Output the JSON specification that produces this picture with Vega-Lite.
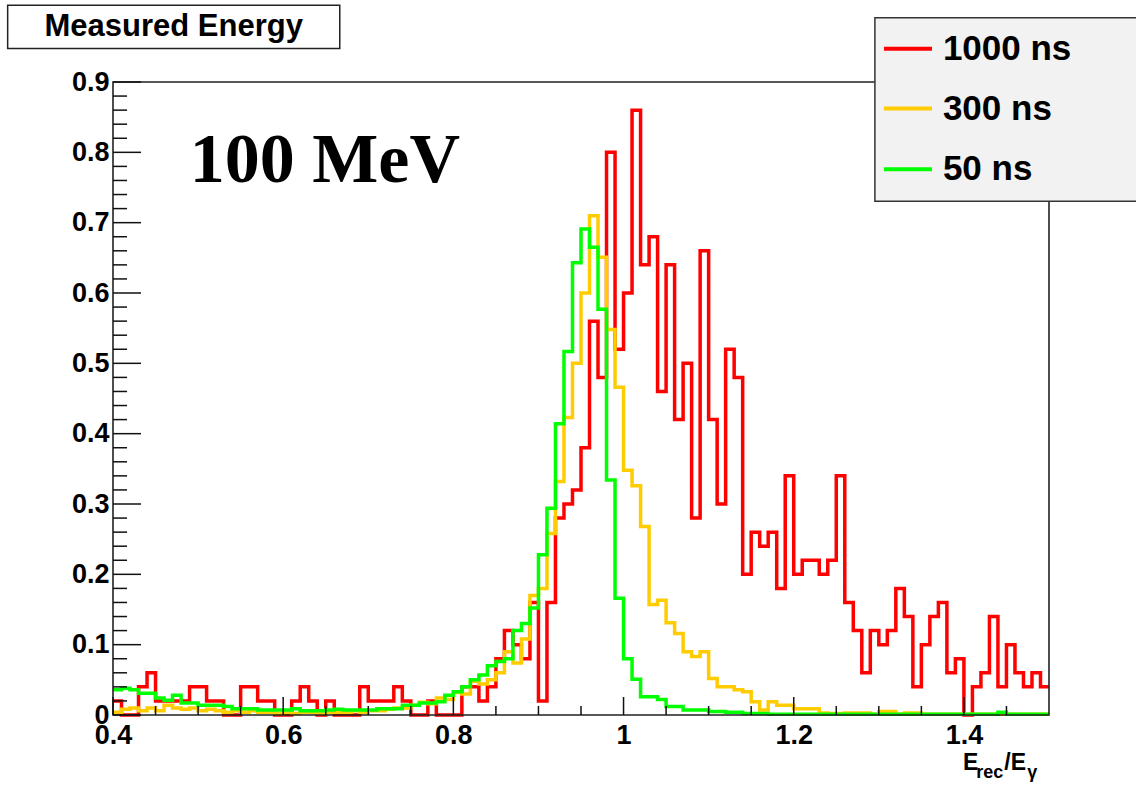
{
  "$schema": "https://vega.github.io/schema/vega-lite/v6.json",
  "width": 936,
  "height": 633,
  "autosize": {"type": "none"},
  "padding": {"left": 113, "top": 82, "right": 87, "bottom": 72},
  "background": "white",
  "config": {
    "view": {"stroke": null},
    "axis": {"ticks": false, "domain": false, "grid": false},
    "text": {"font": "Liberation Sans", "fontWeight": "bold", "color": "#000"}
  },
  "datasets": {
    "hist": [
      {"x":0.40,"r":0.02,"o":0.004,"g":0.036},
      {"x":0.41,"r":0,"o":0.008,"g":0.038},
      {"x":0.42,"r":0,"o":0.01,"g":0.036},
      {"x":0.43,"r":0.04,"o":0.006,"g":0.031},
      {"x":0.44,"r":0.06,"o":0.01,"g":0.031},
      {"x":0.45,"r":0.02,"o":0.006,"g":0.024},
      {"x":0.46,"r":0.02,"o":0.014,"g":0.021},
      {"x":0.47,"r":0.02,"o":0.01,"g":0.028},
      {"x":0.48,"r":0.02,"o":0.008,"g":0.017},
      {"x":0.49,"r":0.04,"o":0.01,"g":0.017},
      {"x":0.50,"r":0.04,"o":0.006,"g":0.014},
      {"x":0.51,"r":0.02,"o":0.008,"g":0.014},
      {"x":0.52,"r":0.02,"o":0.006,"g":0.014},
      {"x":0.53,"r":0,"o":0.004,"g":0.012},
      {"x":0.54,"r":0,"o":0.006,"g":0.009},
      {"x":0.55,"r":0.04,"o":0.004,"g":0.009},
      {"x":0.56,"r":0.04,"o":0.006,"g":0.009},
      {"x":0.57,"r":0.02,"o":0.004,"g":0.007},
      {"x":0.58,"r":0.02,"o":0.004,"g":0.007},
      {"x":0.59,"r":0,"o":0.002,"g":0.007},
      {"x":0.60,"r":0,"o":0.004,"g":0.007},
      {"x":0.61,"r":0.02,"o":0.002,"g":0.009},
      {"x":0.62,"r":0.04,"o":0.004,"g":0.006},
      {"x":0.63,"r":0.02,"o":0.004,"g":0.006},
      {"x":0.64,"r":0,"o":0.002,"g":0.006},
      {"x":0.65,"r":0.02,"o":0.004,"g":0.007},
      {"x":0.66,"r":0,"o":0.004,"g":0.008},
      {"x":0.67,"r":0,"o":0.004,"g":0.007},
      {"x":0.68,"r":0,"o":0.006,"g":0.007},
      {"x":0.69,"r":0.04,"o":0.004,"g":0.007},
      {"x":0.70,"r":0.02,"o":0.006,"g":0.007},
      {"x":0.71,"r":0.02,"o":0.006,"g":0.009},
      {"x":0.72,"r":0.02,"o":0.008,"g":0.009},
      {"x":0.73,"r":0.04,"o":0.01,"g":0.009},
      {"x":0.74,"r":0.02,"o":0.01,"g":0.014},
      {"x":0.75,"r":0,"o":0.014,"g":0.014},
      {"x":0.76,"r":0,"o":0.018,"g":0.017},
      {"x":0.77,"r":0.02,"o":0.016,"g":0.017},
      {"x":0.78,"r":0,"o":0.024,"g":0.019},
      {"x":0.79,"r":0,"o":0.022,"g":0.028},
      {"x":0.80,"r":0,"o":0.032,"g":0.033},
      {"x":0.81,"r":0.04,"o":0.03,"g":0.04},
      {"x":0.82,"r":0.04,"o":0.048,"g":0.05},
      {"x":0.83,"r":0.02,"o":0.044,"g":0.057},
      {"x":0.84,"r":0.04,"o":0.05,"g":0.07},
      {"x":0.85,"r":0.08,"o":0.06,"g":0.076},
      {"x":0.86,"r":0.12,"o":0.09,"g":0.08},
      {"x":0.87,"r":0.10,"o":0.074,"g":0.12},
      {"x":0.88,"r":0.08,"o":0.108,"g":0.13},
      {"x":0.89,"r":0.16,"o":0.17,"g":0.152},
      {"x":0.90,"r":0.02,"o":0.18,"g":0.228},
      {"x":0.91,"r":0.16,"o":0.258,"g":0.294},
      {"x":0.92,"r":0.28,"o":0.332,"g":0.414},
      {"x":0.93,"r":0.30,"o":0.423,"g":0.517},
      {"x":0.94,"r":0.32,"o":0.5,"g":0.643},
      {"x":0.95,"r":0.38,"o":0.6,"g":0.691},
      {"x":0.96,"r":0.56,"o":0.71,"g":0.665},
      {"x":0.97,"r":0.48,"o":0.651,"g":0.577},
      {"x":0.98,"r":0.80,"o":0.548,"g":0.334},
      {"x":0.99,"r":0.52,"o":0.466,"g":0.166},
      {"x":1.00,"r":0.60,"o":0.348,"g":0.08},
      {"x":1.01,"r":0.86,"o":0.326,"g":0.051},
      {"x":1.02,"r":0.64,"o":0.268,"g":0.026},
      {"x":1.03,"r":0.68,"o":0.157,"g":0.026},
      {"x":1.04,"r":0.46,"o":0.163,"g":0.022},
      {"x":1.05,"r":0.64,"o":0.131,"g":0.012},
      {"x":1.06,"r":0.42,"o":0.116,"g":0.012},
      {"x":1.07,"r":0.50,"o":0.09,"g":0.007},
      {"x":1.08,"r":0.28,"o":0.083,"g":0.007},
      {"x":1.09,"r":0.66,"o":0.09,"g":0.007},
      {"x":1.10,"r":0.42,"o":0.052,"g":0.005},
      {"x":1.11,"r":0.30,"o":0.04,"g":0.005},
      {"x":1.12,"r":0.52,"o":0.04,"g":0.004},
      {"x":1.13,"r":0.48,"o":0.036,"g":0.004},
      {"x":1.14,"r":0.20,"o":0.033,"g":0.002},
      {"x":1.15,"r":0.26,"o":0.019,"g":0.002},
      {"x":1.16,"r":0.24,"o":0.007,"g":0.002},
      {"x":1.17,"r":0.26,"o":0.019,"g":0.001},
      {"x":1.18,"r":0.18,"o":0.014,"g":0.001},
      {"x":1.19,"r":0.34,"o":0.014,"g":0.001},
      {"x":1.20,"r":0.20,"o":0.009,"g":0.001},
      {"x":1.21,"r":0.22,"o":0.009,"g":0.001},
      {"x":1.22,"r":0.22,"o":0.009,"g":0.001},
      {"x":1.23,"r":0.20,"o":0.003,"g":0.001},
      {"x":1.24,"r":0.22,"o":0.002,"g":0.001},
      {"x":1.25,"r":0.34,"o":0.002,"g":0.001},
      {"x":1.26,"r":0.16,"o":0.003,"g":0.001},
      {"x":1.27,"r":0.12,"o":0.003,"g":0.001},
      {"x":1.28,"r":0.06,"o":0.003,"g":0.001},
      {"x":1.29,"r":0.12,"o":0.001,"g":0.001},
      {"x":1.30,"r":0.10,"o":0.005,"g":0.001},
      {"x":1.31,"r":0.12,"o":0.005,"g":0.001},
      {"x":1.32,"r":0.18,"o":0.001,"g":0.001},
      {"x":1.33,"r":0.14,"o":0.003,"g":0.001},
      {"x":1.34,"r":0.04,"o":0.003,"g":0.001},
      {"x":1.35,"r":0.10,"o":0.001,"g":0.001},
      {"x":1.36,"r":0.14,"o":0.001,"g":0.001},
      {"x":1.37,"r":0.16,"o":0.001,"g":0.001},
      {"x":1.38,"r":0.06,"o":0.001,"g":0.001},
      {"x":1.39,"r":0.08,"o":0.001,"g":0.001},
      {"x":1.40,"r":0,"o":0.001,"g":0.001},
      {"x":1.41,"r":0.04,"o":0.001,"g":0.001},
      {"x":1.42,"r":0.06,"o":0.001,"g":0.001},
      {"x":1.43,"r":0.14,"o":0.001,"g":0.001},
      {"x":1.44,"r":0.04,"o":0.001,"g":0.004},
      {"x":1.45,"r":0.10,"o":0.001,"g":0.001},
      {"x":1.46,"r":0.06,"o":0.001,"g":0.001},
      {"x":1.47,"r":0.04,"o":0.001,"g":0.001},
      {"x":1.48,"r":0.06,"o":0.001,"g":0.001},
      {"x":1.49,"r":0.04,"o":0.001,"g":0.001},
      {"x":1.50,"r":0.04,"o":0.001,"g":0.001}
    ],
    "yMajor": [{"v":0},{"v":0.1},{"v":0.2},{"v":0.3},{"v":0.4},{"v":0.5},{"v":0.6},{"v":0.7},{"v":0.8},{"v":0.9}],
    "yMinor": [
      {"v":0.02},{"v":0.04},{"v":0.06},{"v":0.08},
      {"v":0.12},{"v":0.14},{"v":0.16},{"v":0.18},
      {"v":0.22},{"v":0.24},{"v":0.26},{"v":0.28},
      {"v":0.32},{"v":0.34},{"v":0.36},{"v":0.38},
      {"v":0.42},{"v":0.44},{"v":0.46},{"v":0.48},
      {"v":0.52},{"v":0.54},{"v":0.56},{"v":0.58},
      {"v":0.62},{"v":0.64},{"v":0.66},{"v":0.68},
      {"v":0.72},{"v":0.74},{"v":0.76},{"v":0.78},
      {"v":0.82},{"v":0.84},{"v":0.86},{"v":0.88}
    ],
    "xMajor": [{"v":0.4},{"v":0.6},{"v":0.8},{"v":1.0},{"v":1.2},{"v":1.4}],
    "xMinor": [
      {"v":0.45},{"v":0.5},{"v":0.55},{"v":0.65},{"v":0.7},{"v":0.75},
      {"v":0.85},{"v":0.9},{"v":0.95},{"v":1.05},{"v":1.1},{"v":1.15},
      {"v":1.25},{"v":1.3},{"v":1.35},{"v":1.45}
    ]
  },
  "layer": [
    {
      "data": {"name": "hist"},
      "mark": {"type": "line", "interpolate": "step-after", "color": "#ff0000", "strokeWidth": 3.5},
      "encoding": {
        "x": {
          "field": "x", "type": "quantitative",
          "scale": {"domain": [0.4, 1.5], "nice": false, "zero": false},
          "axis": {
            "values": [0.4, 0.6, 0.8, 1.0, 1.2, 1.4], "format": "~g",
            "ticks": false, "domain": false, "grid": false, "title": null,
            "labelFont": "Liberation Sans", "labelFontWeight": "bold", "labelFontSize": 27,
            "labelColor": "#000", "labelPadding": 7, "labelFlush": false, "labelOverlap": false
          }
        },
        "y": {
          "field": "r", "type": "quantitative",
          "scale": {"domain": [0, 0.9], "nice": false, "zero": false},
          "axis": {
            "values": [0, 0.1, 0.2, 0.3, 0.4, 0.5, 0.6, 0.7, 0.8, 0.9], "format": "~g",
            "ticks": false, "domain": false, "grid": false, "title": null,
            "labelFont": "Liberation Sans", "labelFontWeight": "bold", "labelFontSize": 27,
            "labelColor": "#000", "labelPadding": 4, "labelOverlap": false
          }
        }
      }
    },
    {
      "data": {"name": "hist"},
      "mark": {"type": "line", "interpolate": "step-after", "color": "#ffcc00", "strokeWidth": 3.5},
      "encoding": {
        "x": {"field": "x", "type": "quantitative"},
        "y": {"field": "o", "type": "quantitative"}
      }
    },
    {
      "data": {"name": "hist"},
      "mark": {"type": "line", "interpolate": "step-after", "color": "#00ff00", "strokeWidth": 3.5},
      "encoding": {
        "x": {"field": "x", "type": "quantitative"},
        "y": {"field": "g", "type": "quantitative"}
      }
    },
    {
      "data": {"values": [{}]},
      "mark": {"type": "rect", "fillOpacity": 0, "stroke": "#222", "strokeWidth": 1.6},
      "encoding": {
        "x": {"datum": 0.4, "type": "quantitative"},
        "x2": {"datum": 1.5},
        "y": {"datum": 0, "type": "quantitative"},
        "y2": {"datum": 0.9}
      }
    },
    {
      "data": {"name": "yMajor"},
      "mark": {"type": "rule", "color": "#111", "strokeWidth": 1.5},
      "encoding": {
        "y": {"field": "v", "type": "quantitative"},
        "x": {"datum": 0.4, "type": "quantitative"},
        "x2": {"datum": 0.4329}
      }
    },
    {
      "data": {"name": "yMinor"},
      "mark": {"type": "rule", "color": "#111", "strokeWidth": 1.5},
      "encoding": {
        "y": {"field": "v", "type": "quantitative"},
        "x": {"datum": 0.4, "type": "quantitative"},
        "x2": {"datum": 0.4165}
      }
    },
    {
      "data": {"name": "xMajor"},
      "mark": {"type": "rule", "color": "#111", "strokeWidth": 1.5},
      "encoding": {
        "x": {"field": "v", "type": "quantitative"},
        "y": {"datum": 0, "type": "quantitative"},
        "y2": {"datum": 0.0256}
      }
    },
    {
      "data": {"name": "xMinor"},
      "mark": {"type": "rule", "color": "#111", "strokeWidth": 1.5},
      "encoding": {
        "x": {"field": "v", "type": "quantitative"},
        "y": {"datum": 0, "type": "quantitative"},
        "y2": {"datum": 0.0128}
      }
    },
    {
      "data": {"values": [{}]},
      "mark": {"type": "text", "text": "100 MeV", "font": "Liberation Serif", "fontWeight": "bold", "fontSize": 70, "align": "left", "baseline": "alphabetic"},
      "encoding": {
        "x": {"datum": 0.4902, "type": "quantitative"},
        "y": {"datum": 0.7574, "type": "quantitative"}
      }
    },
    {
      "data": {"values": [{}]},
      "mark": {"type": "rect", "fill": "white", "stroke": "#222", "strokeWidth": 1.5},
      "encoding": {
        "x": {"datum": 0.2762, "type": "quantitative"},
        "x2": {"datum": 0.6665},
        "y": {"datum": 0.9478, "type": "quantitative"},
        "y2": {"datum": 1.009}
      }
    },
    {
      "data": {"values": [{}]},
      "mark": {"type": "text", "text": "Measured Energy", "fontSize": 31, "align": "center", "baseline": "middle"},
      "encoding": {
        "x": {"datum": 0.4714, "type": "quantitative"},
        "y": {"datum": 0.9777, "type": "quantitative"}
      }
    },
    {
      "data": {"values": [{}]},
      "mark": {"type": "rect", "fill": "#f2f2f2", "stroke": "#333", "strokeWidth": 1.5},
      "encoding": {
        "x": {"datum": 1.2954, "type": "quantitative"},
        "x2": {"datum": 1.64},
        "y": {"datum": 0.7304, "type": "quantitative"},
        "y2": {"datum": 0.9915}
      }
    },
    {
      "data": {"values": [{}]},
      "mark": {"type": "rule", "color": "#ff0000", "strokeWidth": 4},
      "encoding": {
        "x": {"datum": 1.306, "type": "quantitative"},
        "x2": {"datum": 1.3625},
        "y": {"datum": 0.9474, "type": "quantitative"}
      }
    },
    {
      "data": {"values": [{}]},
      "mark": {"type": "rule", "color": "#ffcc00", "strokeWidth": 4},
      "encoding": {
        "x": {"datum": 1.306, "type": "quantitative"},
        "x2": {"datum": 1.3625},
        "y": {"datum": 0.8622, "type": "quantitative"}
      }
    },
    {
      "data": {"values": [{}]},
      "mark": {"type": "rule", "color": "#00ff00", "strokeWidth": 4},
      "encoding": {
        "x": {"datum": 1.306, "type": "quantitative"},
        "x2": {"datum": 1.3625},
        "y": {"datum": 0.7759, "type": "quantitative"}
      }
    },
    {
      "data": {"values": [{}]},
      "mark": {"type": "text", "text": "1000 ns", "fontSize": 35, "align": "left", "baseline": "middle"},
      "encoding": {
        "x": {"datum": 1.3753, "type": "quantitative"},
        "y": {"datum": 0.9474, "type": "quantitative"}
      }
    },
    {
      "data": {"values": [{}]},
      "mark": {"type": "text", "text": "300 ns", "fontSize": 35, "align": "left", "baseline": "middle"},
      "encoding": {
        "x": {"datum": 1.3753, "type": "quantitative"},
        "y": {"datum": 0.8622, "type": "quantitative"}
      }
    },
    {
      "data": {"values": [{}]},
      "mark": {"type": "text", "text": "50 ns", "fontSize": 35, "align": "left", "baseline": "middle"},
      "encoding": {
        "x": {"datum": 1.3753, "type": "quantitative"},
        "y": {"datum": 0.7759, "type": "quantitative"}
      }
    },
    {
      "data": {"values": [{}]},
      "mark": {"type": "text", "text": "E", "fontSize": 23, "align": "left", "baseline": "alphabetic"},
      "encoding": {
        "x": {"datum": 1.3988, "type": "quantitative"},
        "y": {"datum": -0.0782, "type": "quantitative"}
      }
    },
    {
      "data": {"values": [{}]},
      "mark": {"type": "text", "text": "rec", "fontSize": 18, "align": "left", "baseline": "alphabetic"},
      "encoding": {
        "x": {"datum": 1.4145, "type": "quantitative"},
        "y": {"datum": -0.0895, "type": "quantitative"}
      }
    },
    {
      "data": {"values": [{}]},
      "mark": {"type": "text", "text": "/E", "fontSize": 23, "align": "left", "baseline": "alphabetic"},
      "encoding": {
        "x": {"datum": 1.4475, "type": "quantitative"},
        "y": {"datum": -0.0782, "type": "quantitative"}
      }
    },
    {
      "data": {"values": [{}]},
      "mark": {"type": "text", "text": "γ", "fontSize": 18, "align": "left", "baseline": "alphabetic"},
      "encoding": {
        "x": {"datum": 1.4745, "type": "quantitative"},
        "y": {"datum": -0.0895, "type": "quantitative"}
      }
    }
  ]
}
